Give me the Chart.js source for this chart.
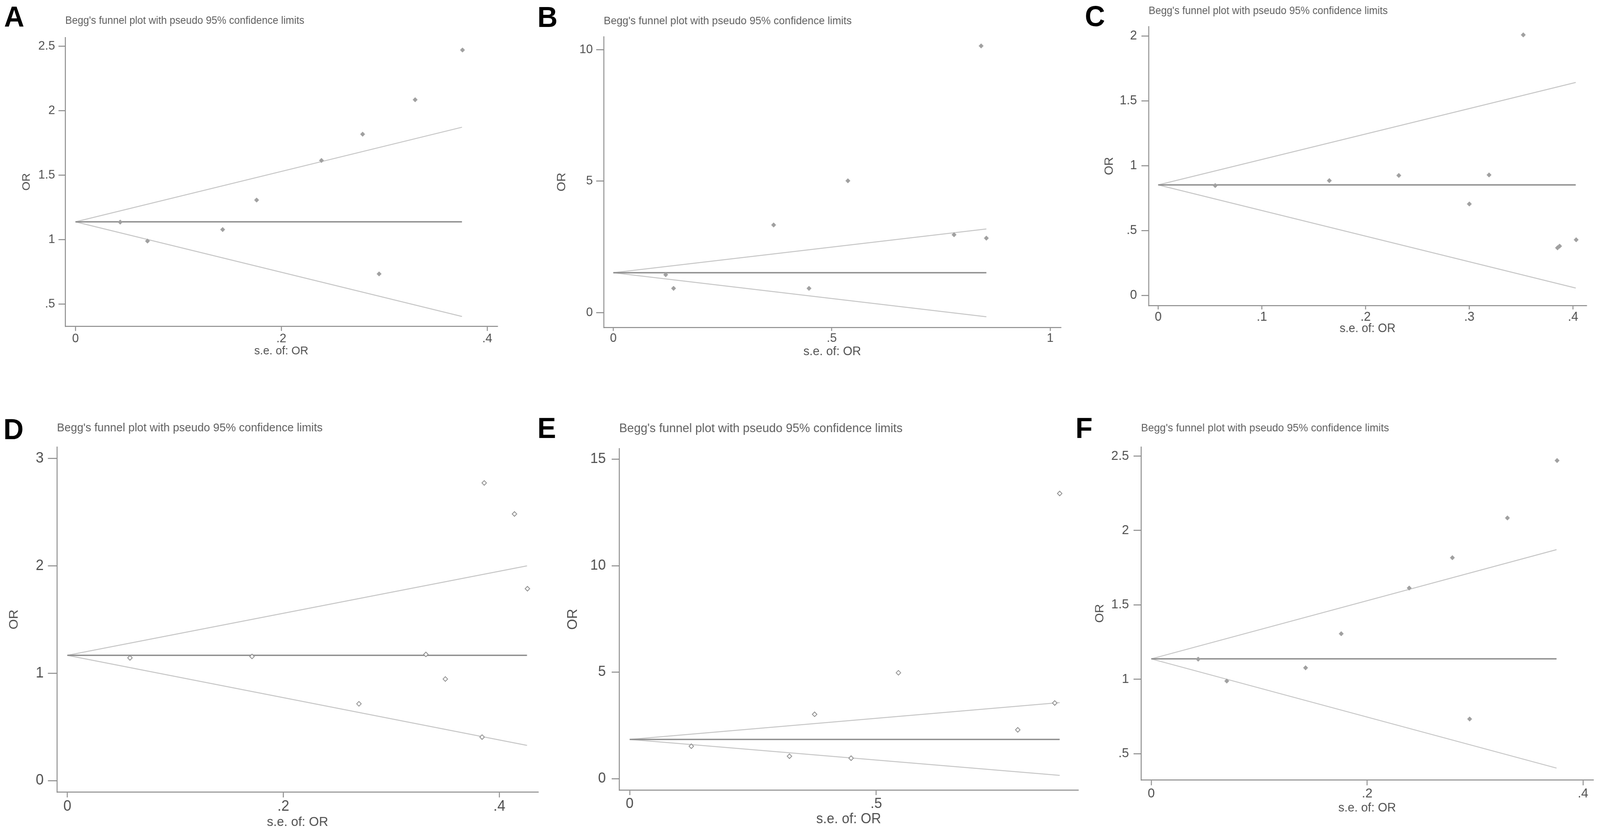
<!DOCTYPE html>
<html>
<head>
<meta charset="utf-8">
<title>Begg's funnel plots</title>
<script src="https://cdn.jsdelivr.net/npm/chart.js@4.4.1/dist/chart.umd.min.js"></script>
<style>
  html, body { margin: 0; padding: 0; background: #fff; overflow: hidden; }
  #figure { width: 4243px; height: 2132px; position: absolute; left: 0; top: 0; transform-origin: 0 0; background: #fff; }
  #figure canvas { position: absolute; }
  .panel-letter { position: absolute; font: bold 74px "Liberation Sans", Arial, sans-serif; line-height: 1; color: #000; }
</style>
</head>
<body>
<div id="figure"></div>
<script>
// Text
const plotTitle = "Begg's funnel plot with pseudo 95% confidence limits";
const xAxisTitle = "s.e. of: OR";
const yAxisTitle = "OR";

// Panel A (panel F shows the same studies again)
const seA = [0.0435, 0.070, 0.143, 0.176, 0.239, 0.279, 0.295, 0.330, 0.376];
const orA = [1.135, 0.988, 1.077, 1.306, 1.613, 1.817, 0.733, 2.084, 2.470];
const lineSeA = [0, 0.3755];
const pooledA = [1.137, 1.137];
const upperA = [1.137, 1.871];
const lowerA = [1.137, 0.403];
const xTicksA = [0, 0.2, 0.4];
const xTickLabelsA = ['0', '.2', '.4'];
const yTicksA = [0.5, 1, 1.5, 2, 2.5];
const yTickLabelsA = ['.5', '1', '1.5', '2', '2.5'];

// Panel B
const seB = [0.120, 0.138, 0.367, 0.448, 0.537, 0.780, 0.842, 0.854];
const orB = [1.44, 0.92, 3.33, 0.92, 5.01, 2.96, 10.14, 2.83];
const lineSeB = [0, 0.854];
const pooledB = [1.516, 1.516];
const upperB = [1.516, 3.18];
const lowerB = [1.516, -0.159];
const xTicksB = [0, 0.5, 1];
const xTickLabelsB = ['0', '.5', '1'];
const yTicksB = [0, 5, 10];
const yTickLabelsB = ['0', '5', '10'];

// Panel C
const seC = [0.055, 0.165, 0.232, 0.300, 0.319, 0.352, 0.385, 0.387, 0.403];
const orC = [0.847, 0.885, 0.925, 0.705, 0.929, 2.009, 0.367, 0.380, 0.429];
const lineSeC = [0, 0.4026];
const pooledC = [0.852, 0.852];
const upperC = [0.852, 1.642];
const lowerC = [0.852, 0.057];
const xTicksC = [0, 0.1, 0.2, 0.3, 0.4];
const xTickLabelsC = ['0', '.1', '.2', '.3', '.4'];
const yTicksC = [0, 0.5, 1, 1.5, 2];
const yTickLabelsC = ['0', '.5', '1', '1.5', '2'];

// Panel D
const seD = [0.058, 0.171, 0.270, 0.332, 0.350, 0.384, 0.386, 0.414, 0.426];
const orD = [1.143, 1.156, 0.715, 1.175, 0.946, 0.405, 2.772, 2.483, 1.787];
const lineSeD = [0, 0.4256];
const pooledD = [1.167, 1.167];
const upperD = [1.167, 2.0];
const lowerD = [1.167, 0.328];
const xTicksD = [0, 0.2, 0.4];
const xTickLabelsD = ['0', '.2', '.4'];
const yTicksD = [0, 1, 2, 3];
const yTickLabelsD = ['0', '1', '2', '3'];

// Panel E
const seE = [0.125, 0.324, 0.375, 0.449, 0.545, 0.787, 0.862, 0.872];
const orE = [1.52, 1.05, 3.02, 0.96, 4.97, 2.29, 3.55, 13.39];
const lineSeE = [0, 0.872];
const pooledE = [1.842, 1.842];
const upperE = [1.842, 3.57];
const lowerE = [1.842, 0.15];
const xTicksE = [0, 0.5];
const xTickLabelsE = ['0', '.5'];
const yTicksE = [0, 5, 10, 15];
const yTickLabelsE = ['0', '5', '10', '15'];

const FONT = '"Liberation Sans", Arial, sans-serif';
const AXIS_COLOR = '#8a8a8a';
const TEXT_COLOR = '#505050';
const TITLE_COLOR = '#5e5e5e';

let figure = document.getElementById('figure');

// fit the 4243x2132 figure to whatever the viewport really is
function fitFigure() {
    let sx = window.innerWidth / 4243;
    let sy = window.innerHeight / 2132;
    figure.style.transform = 'scale(' + sx + ',' + sy + ')';
}
fitFigure();

function pairs(xs, ys) {
    return xs.map((x, i) => ({ x: x, y: ys[i] }));
}

// Build one funnel plot panel
function drawPanel(p) {
    let canvas = document.createElement('canvas');
    canvas.width = p.box.w;
    canvas.height = p.box.h;
    canvas.style.left = p.box.x + 'px';
    canvas.style.top = p.box.y + 'px';
    figure.appendChild(canvas);

    let letter = document.createElement('div');
    letter.className = 'panel-letter';
    letter.textContent = p.letter;
    letter.style.left = p.letterX + 'px';
    letter.style.top = (p.letterTop - 0.13 * 74) + 'px';
    figure.appendChild(letter);

    const yAxisWidth = p.axis.left - p.box.x;
    const xAxisHeight = p.box.y + p.box.h - p.axis.bottom;
    const titleLh = p.titleSize * 1.2;
    const titlePadTop = p.titleY - p.box.y - titleLh / 2;
    const titlePadBottom = p.axis.top - p.box.y - titlePadTop - titleLh;

    const markers = p.hollow
        ? { pointStyle: 'rectRot', pointRadius: 6, pointBorderWidth: 2, pointBorderColor: '#8c8c8c', pointBackgroundColor: '#ffffff' }
        : { pointStyle: 'rectRot', pointRadius: 6, pointBorderWidth: 1, pointBorderColor: '#a0a0a0', pointBackgroundColor: '#a0a0a0' };

    new Chart(canvas.getContext('2d'), {
        type: 'scatter',
        data: {
            datasets: [
                Object.assign({ data: pairs(p.se, p.or), clip: false }, markers),
                { data: pairs(p.lineSe, p.pooled), showLine: true, pointRadius: 0, borderColor: '#8e8e8e', borderWidth: 3.5, clip: false },
                { data: pairs(p.lineSe, p.upper), showLine: true, pointRadius: 0, borderColor: '#c6c6c6', borderWidth: 2.5, clip: false },
                { data: pairs(p.lineSe, p.lower), showLine: true, pointRadius: 0, borderColor: '#c6c6c6', borderWidth: 2.5, clip: false }
            ]
        },
        options: {
            responsive: false,
            animation: false,
            events: [],
            layout: { padding: { left: 0, top: 0, right: p.box.x + p.box.w - p.axis.right, bottom: 0 } },
            plugins: {
                legend: { display: false },
                tooltip: { enabled: false },
                title: {
                    display: true,
                    text: plotTitle,
                    align: 'start',
                    fullSize: false,
                    color: TITLE_COLOR,
                    font: { family: FONT, size: p.titleSize, weight: 'normal' },
                    padding: { top: titlePadTop, bottom: titlePadBottom }
                }
            },
            scales: {
                x: {
                    type: 'linear',
                    min: p.xRange[0],
                    max: p.xRange[1],
                    afterFit: (scale) => { scale.height = xAxisHeight; },
                    afterBuildTicks: (scale) => { scale.ticks = p.xTicks.map(v => ({ value: v })); },
                    grid: { display: true, drawOnChartArea: false, drawTicks: true, tickLength: p.xTl, color: AXIS_COLOR, lineWidth: 2.5 },
                    border: { display: true, color: AXIS_COLOR, width: 2.5 },
                    ticks: {
                        autoSkip: false,
                        maxRotation: 0,
                        padding: p.xLabelY - p.axis.bottom - p.xTl - 0.6 * p.tickSize,
                        color: TEXT_COLOR,
                        font: { family: FONT, size: p.tickSize },
                        callback: (v) => p.xTickLabels[p.xTicks.indexOf(v)]
                    },
                    title: {
                        display: true,
                        text: xAxisTitle,
                        color: TEXT_COLOR,
                        font: { family: FONT, size: p.axisTitleSize },
                        padding: { top: 0, bottom: p.box.y + p.box.h - p.xTitleY - 0.6 * p.axisTitleSize }
                    }
                },
                y: {
                    type: 'linear',
                    min: p.yRange[0],
                    max: p.yRange[1],
                    afterFit: (scale) => { scale.width = yAxisWidth; },
                    afterBuildTicks: (scale) => { scale.ticks = p.yTicks.map(v => ({ value: v })); },
                    grid: { display: true, drawOnChartArea: false, drawTicks: true, tickLength: p.yTl, color: AXIS_COLOR, lineWidth: 2.5 },
                    border: { display: true, color: AXIS_COLOR, width: 2.5 },
                    ticks: {
                        autoSkip: false,
                        padding: p.yGap - p.yTl,
                        color: TEXT_COLOR,
                        font: { family: FONT, size: p.tickSize },
                        callback: (v) => p.yTickLabels[p.yTicks.indexOf(v)]
                    },
                    title: {
                        display: true,
                        text: yAxisTitle,
                        color: TEXT_COLOR,
                        font: { family: FONT, size: p.axisTitleSize },
                        padding: { top: p.yTitleX - p.box.x - 0.6 * p.axisTitleSize, bottom: 0 }
                    }
                }
            }
        }
    });
}

let panels = [
    {
        letter: 'A', letterX: 11, letterTop: 16,
        box: { x: 0, y: 0, w: 1440, h: 1000 },
        axis: { left: 173, top: 96, bottom: 835, right: 1319 },
        xRange: [-0.0099, 0.4099], yRange: [0.327, 2.567],
        titleY: 54, titleSize: 27, tickSize: 32, axisTitleSize: 30,
        yTl: 18, yGap: 27, xTl: 12, xLabelY: 867, xTitleY: 899, yTitleX: 71,
        se: seA, or: orA, lineSe: lineSeA, pooled: pooledA, upper: upperA, lower: lowerA,
        xTicks: xTicksA, xTickLabels: xTickLabelsA, yTicks: yTicksA, yTickLabels: yTickLabelsA
    },
    {
        letter: 'B', letterX: 1425, letterTop: 17,
        box: { x: 1400, y: 0, w: 1470, h: 1000 },
        axis: { left: 1601, top: 94, bottom: 838, right: 2813 },
        xRange: [-0.0219, 1.0243], yRange: [-0.565, 10.49],
        titleY: 54.5, titleSize: 28, tickSize: 32, axisTitleSize: 32,
        yTl: 20, yGap: 29, xTl: 9, xLabelY: 866.5, xTitleY: 900, yTitleX: 1490.6,
        se: seB, or: orB, lineSe: lineSeB, pooled: pooledB, upper: upperB, lower: lowerB,
        xTicks: xTicksB, xTickLabels: xTickLabelsB, yTicks: yTicksB, yTickLabels: yTickLabelsB
    },
    {
        letter: 'C', letterX: 2877, letterTop: 15,
        box: { x: 2830, y: 0, w: 1413, h: 1000 },
        axis: { left: 3046, top: 68, bottom: 782, right: 4207 },
        xRange: [-0.0092, 0.4129], yRange: [-0.078, 2.073],
        titleY: 28.5, titleSize: 27, tickSize: 33, axisTitleSize: 31,
        yTl: 19, yGap: 31, xTl: 10, xLabelY: 812, xTitleY: 841, yTitleX: 2942.5,
        se: seC, or: orC, lineSe: lineSeC, pooled: pooledC, upper: upperC, lower: lowerC,
        xTicks: xTicksC, xTickLabels: xTickLabelsC, yTicks: yTicksC, yTickLabels: yTickLabelsC
    },
    {
        letter: 'D', letterX: 9, letterTop: 1072, hollow: true,
        box: { x: 0, y: 1040, w: 1440, h: 1092 },
        axis: { left: 151, top: 1144, bottom: 2027, right: 1427 },
        xRange: [-0.0096, 0.4359], yRange: [-0.106, 3.107],
        titleY: 1096, titleSize: 30, tickSize: 38, axisTitleSize: 34,
        yTl: 24, yGap: 35, xTl: 14, xLabelY: 2065, xTitleY: 2104.6, yTitleX: 38,
        se: seD, or: orD, lineSe: lineSeD, pooled: pooledD, upper: upperD, lower: lowerD,
        xTicks: xTicksD, xTickLabels: xTickLabelsD, yTicks: yTicksD, yTickLabels: yTickLabelsD
    },
    {
        letter: 'E', letterX: 1425, letterTop: 1069, hollow: true,
        box: { x: 1400, y: 1040, w: 1470, h: 1092 },
        axis: { left: 1642, top: 1148, bottom: 2022, right: 2859 },
        xRange: [-0.0213, 0.9094], yRange: [-0.536, 15.5],
        titleY: 1097.5, titleSize: 32, tickSize: 37, axisTitleSize: 36,
        yTl: 20, yGap: 35.5, xTl: 13, xLabelY: 2057.7, xTitleY: 2097, yTitleX: 1520.4,
        se: seE, or: orE, lineSe: lineSeE, pooled: pooledE, upper: upperE, lower: lowerE,
        xTicks: xTicksE, xTickLabels: xTickLabelsE, yTicks: yTicksE, yTickLabels: yTickLabelsE
    },
    {
        // F repeats panel A's studies
        letter: 'F', letterX: 2852, letterTop: 1069,
        box: { x: 2830, y: 1040, w: 1413, h: 1092 },
        axis: { left: 3026, top: 1144, bottom: 1996, right: 4225 },
        xRange: [-0.0094, 0.4095], yRange: [0.324, 2.561],
        titleY: 1096, titleSize: 28, tickSize: 34, axisTitleSize: 32,
        yTl: 20, yGap: 32, xTl: 14, xLabelY: 2032, xTitleY: 2068.6, yTitleX: 2917,
        se: seA, or: orA, lineSe: lineSeA, pooled: pooledA, upper: upperA, lower: lowerA,
        xTicks: xTicksA, xTickLabels: xTickLabelsA, yTicks: yTicksA, yTickLabels: yTickLabelsA
    }
];

panels.forEach(drawPanel);
</script>
</body>
</html>
